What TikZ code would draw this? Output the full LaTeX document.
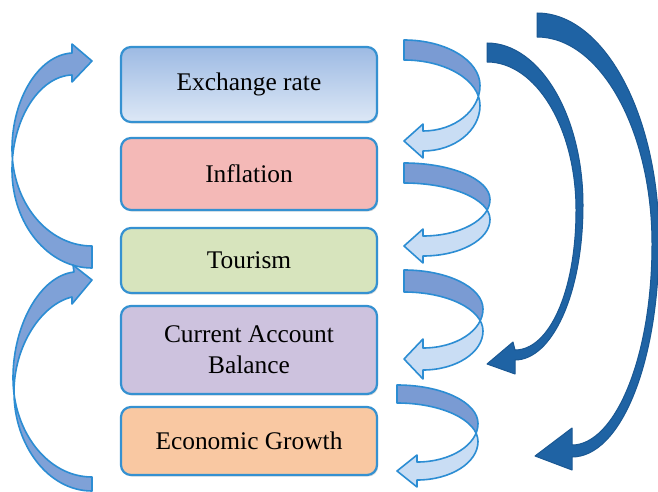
\documentclass[tikz,border=0pt]{standalone}
\usepackage{fontspec}
\setmainfont{Liberation Serif}
\usetikzlibrary{shadows}

\definecolor{boxline}{HTML}{3591D1}
\definecolor{ribline}{HTML}{2C8DD3}
\definecolor{leftfill}{HTML}{7FA1D7}
\definecolor{backfill}{HTML}{7A9BD3}
\definecolor{frontfill}{HTML}{C9DDF4}
\definecolor{darkfill}{HTML}{1F63A4}
\definecolor{darkline}{HTML}{1A5893}
\definecolor{erTop}{HTML}{9DBAE3}
\definecolor{erBot}{HTML}{DDE8F6}
\definecolor{infl}{HTML}{F4B9B7}
\definecolor{tour}{HTML}{D7E4BD}
\definecolor{cab}{HTML}{CDC2DE}
\definecolor{grow}{HTML}{F9C8A2}

% Twisted ribbon arrow bending to the right and back to the left.
% #1 tail x, #2 tail top y, #3 half height, #4 horizontal radius,
% #5 ribbon thickness, #6 head length, #7 barb overhang
\newcommand{\rribbon}[7]{%
  \def\rpath{(#1,#2) .. controls ({#1+0.552*#4},#2) and ({#1+#4},{#2+0.448*#3}) .. ({#1+#4},{#2+#3})
    .. controls ({#1+#4},{#2+1.552*#3}) and ({#1+#6+0.552*(#4-#6)},{#2+2*#3}) .. ({#1+#6},{#2+2*#3})
    -- ({#1+#6},{#2+2*#3-#7}) -- (#1,{#2+2*#3+0.5*#5}) -- ({#1+#6},{#2+2*#3+#5+#7}) -- ({#1+#6},{#2+2*#3+#5})
    .. controls ({#1+#6+0.552*(#4-#6)},{#2+2*#3+#5}) and ({#1+#4},{#2+1.552*#3+#5}) .. ({#1+#4},{#2+#3+#5})
    .. controls ({#1+#4},{#2+0.448*#3+#5}) and ({#1+0.552*#4},{#2+#5}) .. (#1,{#2+#5}) -- cycle}%
  \fill[frontfill] \rpath;
  \begin{scope}
    \clip ({#1-5},{#2-5}) rectangle ({#1+#4+10},{#2+#3+0.5*#5});
    \fill[backfill] \rpath;
  \end{scope}
  \draw[ribline, line width=0.8pt, line join=round] \rpath;
}

\begin{document}
\begin{tikzpicture}[x=0.5pt, y=-0.5pt,
  box/.style={draw=boxline, line width=1.1pt, rounded corners=5pt,
    minimum width=128pt, align=center, inner sep=2pt,
    font=\fontsize{12.7pt}{15.5pt}\selectfont,
    drop shadow={shadow xshift=0.6pt, shadow yshift=-0.8pt, opacity=0.25}},
  leftarrow/.style={fill=leftfill, draw=ribline, line width=0.8pt, line join=round},
  darkarrow/.style={fill=darkfill, draw=darkline, line width=0.5pt, line join=round}]

\useasboundingbox (0,0) rectangle (658,492);

% stacked factor boxes
\node[box, top color=erTop, bottom color=erBot, minimum height=37.5pt] (er) at (249,84.5) {Exchange rate};
\node[box, fill=infl, minimum height=36pt] (inf) at (249,174) {Inflation};
\node[box, fill=tour, minimum height=32.5pt] (tou) at (249,260.5) {Tourism};
\node[box, fill=cab, minimum height=44pt] (cab) at (249,350) {Current Account\\Balance};
\node[box, fill=grow, minimum height=34pt] (gro) at (249,441) {Economic Growth};

% left feedback arrows
\draw[leftarrow] (92,246) .. controls (48,246) and (12,203) .. (12,149)
  .. controls (12,100) and (38,55) .. (72,53) -- (72,44) -- (92,61) -- (72,82) -- (72,75)
  .. controls (40,76) and (12,118) .. (12,170) .. controls (12,224) and (48,268) .. (92,268) -- cycle;
\draw[leftarrow] (92,477) .. controls (48,477) and (13,432) .. (13,378)
  .. controls (13,325) and (40,276) .. (74,272) -- (73,265) -- (92,280) -- (72,304) -- (72,297)
  .. controls (42,304) and (14,345) .. (14,392) .. controls (14,445) and (48,491) .. (92,491) -- cycle;

% right step arrows between neighbouring boxes
\rribbon{404}{40}{45.5}{76}{20}{19}{7}
\rribbon{404}{163}{36.5}{86}{20}{19}{7}
\rribbon{404}{270}{39}{79}{22}{19}{9}
\rribbon{397}{385}{38.5}{81}{18}{20}{7}

% long dark arrows
\draw[darkarrow] (487,43) .. controls (540,43) and (583,116) .. (583,205)
  .. controls (583,294) and (552,360) .. (515,360) -- (515,374) -- (487,364) -- (513,342) -- (515,350)
  .. controls (549,350) and (576,292) .. (576,210) .. controls (576,128) and (536,62) .. (487,62) -- cycle;
\draw[darkarrow] (537,13) .. controls (604,13) and (659,115) .. (659,240)
  .. controls (659,365) and (620,457) .. (572,457) -- (572,470) -- (535,456) -- (572,428) -- (572,445)
  .. controls (614,445) and (652,360) .. (652,244) .. controls (652,130) and (600,37) .. (537,37) -- cycle;

\end{tikzpicture}
\end{document}
